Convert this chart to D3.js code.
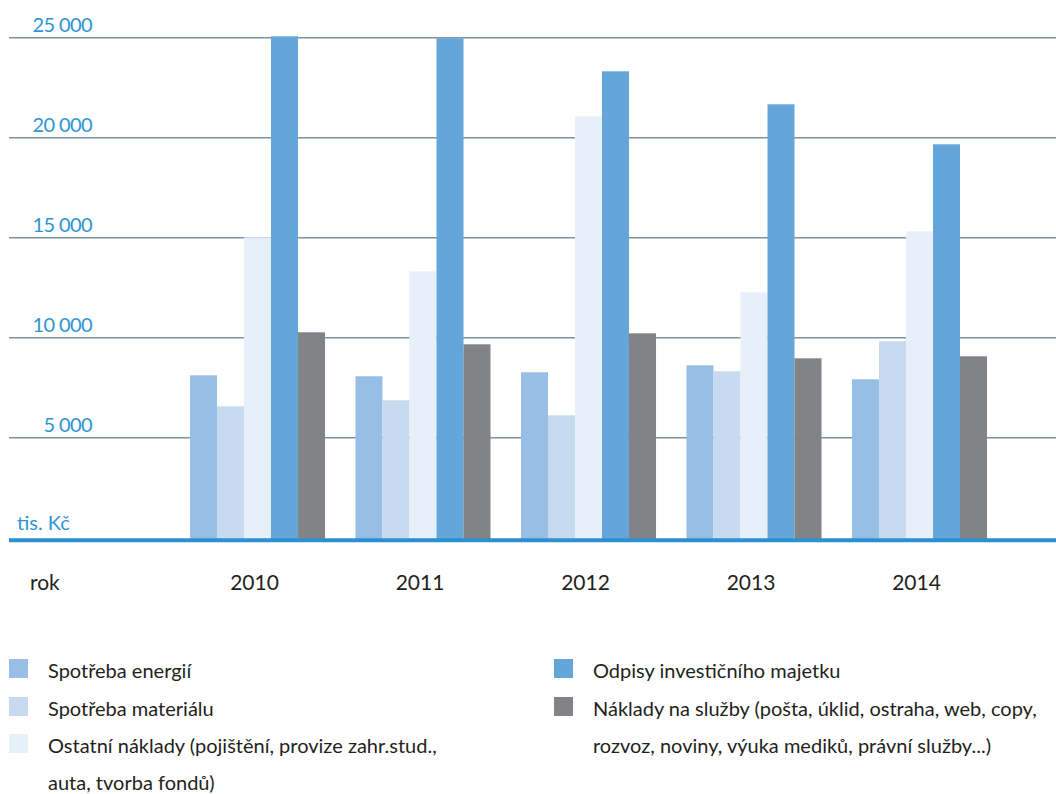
<!DOCTYPE html>
<html>
<head>
<meta charset="utf-8">
<script src="https://cdn.jsdelivr.net/npm/d3@7"></script>
<style>
  body { margin: 0; background: #fff; }
  text { font-family: Lato, "Noto Sans", sans-serif; }
</style>
</head>
<body>
<div id="chart"></div>
<script>
const years = ["2010", "2011", "2012", "2013", "2014"];
const seriesNames = [
  "Spotřeba energií",
  "Spotřeba materiálu",
  "Ostatní náklady (pojištění, provize zahr.stud., auta, tvorba fondů)",
  "Odpisy investičního majetku",
  "Náklady na služby (pošta, úklid, ostraha, web, copy, rozvoz, noviny, výuka mediků, právní služby...)"
];
const energie  = [8100, 8050, 8250, 8600, 7900];
const material = [6550, 6850, 6100, 8300, 9800];
const ostatni  = [15000, 13300, 21050, 12250, 15300];
const odpisy   = [25050, 24950, 23300, 21650, 19650];
const sluzby   = [10250, 9650, 10200, 8950, 9050];
const yTicks = [5000, 10000, 15000, 20000, 25000];

const colors = ["#99bee5", "#c6dbf0", "#e7eff9", "#64a6da", "#828387"];
const allSeries = [energie, material, ostatni, odpisy, sluzby];

const width = 1056, height = 794;

const svg = d3.select("#chart").append("svg")
  .attr("width", width).attr("height", height);

const y = d3.scaleLinear().domain([0, 25000]).range([537.3, 37.3]);

const x0 = d3.scaleBand()
  .domain(years)
  .range([174.75, 1002.25])
  .paddingInner(0.184)
  .paddingOuter(0.092);

const x1 = d3.scaleBand()
  .domain(d3.range(seriesNames.length))
  .range([0, x0.bandwidth()]);

const cz = d3.formatLocale({ decimal: ",", thousands: " ", grouping: [3], currency: ["", " Kč"] });

// gridlines + y labels
const yAxis = svg.append("g")
  .attr("transform", `translate(${width}, 0)`)
  .call(d3.axisLeft(y).tickValues(yTicks).tickSize(width - 9).tickFormat(cz.format(",d")));
yAxis.select(".domain").remove();
yAxis.selectAll(".tick line")
  .attr("stroke", "#7b93a2")
  .attr("stroke-width", 1.5);
yAxis.selectAll(".tick text")
  .attr("x", 92 - width)
  .attr("dy", -6)
  .attr("text-anchor", "end")
  .attr("fill", "#2e95d3")
  .attr("font-size", 20)
  .attr("letter-spacing", -0.6);

// bars
const groups = svg.append("g")
  .selectAll("g")
  .data(years)
  .join("g")
  .attr("transform", d => `translate(${x0(d)}, 0)`);

groups.selectAll("rect")
  .data((d, i) => allSeries.map((s, k) => ({ k: k, v: s[i] })))
  .join("rect")
  .attr("x", d => x1(d.k))
  .attr("width", x1.bandwidth())
  .attr("y", d => y(d.v))
  .attr("height", d => y(0) + 3 - y(d.v))
  .attr("fill", d => colors[d.k]);

// baseline
svg.append("line")
  .attr("x1", 9).attr("x2", width)
  .attr("y1", y(0) + 3).attr("y2", y(0) + 3)
  .attr("stroke", "#2a90d0")
  .attr("stroke-width", 4);

svg.append("text")
  .attr("x", 17).attr("y", 530)
  .attr("fill", "#2e95d3")
  .attr("font-size", 20)
  .text("tis. Kč");

// x axis
const xAxis = svg.append("g")
  .attr("transform", "translate(-3, 572)")
  .call(d3.axisBottom(x0).tickSize(0));
xAxis.select(".domain").remove();
xAxis.selectAll(".tick text")
  .attr("fill", "#231f20")
  .attr("font-size", 21);

svg.append("text")
  .attr("x", 30).attr("y", 590)
  .attr("fill", "#231f20")
  .attr("font-size", 21)
  .text("rok");

// legend
const legendItems = [
  { k: 0, x: 9, y: 659, lines: ["Spotřeba energií"] },
  { k: 1, x: 9, y: 697, lines: ["Spotřeba materiálu"] },
  { k: 2, x: 9, y: 734, lines: ["Ostatní náklady (pojištění, provize zahr.stud.,", "auta, tvorba fondů)"] },
  { k: 3, x: 554, y: 659, lines: ["Odpisy investičního majetku"] },
  { k: 4, x: 554, y: 697, lines: ["Náklady na služby (pošta, úklid, ostraha, web, copy,", "rozvoz, noviny, výuka mediků, právní služby...)"] }
];

const legend = svg.append("g")
  .selectAll("g")
  .data(legendItems)
  .join("g")
  .attr("transform", d => `translate(${d.x}, ${d.y})`);

legend.append("rect")
  .attr("width", 19).attr("height", 19)
  .attr("fill", d => colors[d.k]);

legend.append("text")
  .attr("x", 39)
  .attr("fill", "#231f20")
  .attr("font-size", 20)
  .selectAll("tspan")
  .data(d => d.lines)
  .join("tspan")
  .attr("x", 39)
  .attr("y", (d, i) => 19 + i * 37)
  .text(d => d);
</script>
</body>
</html>
